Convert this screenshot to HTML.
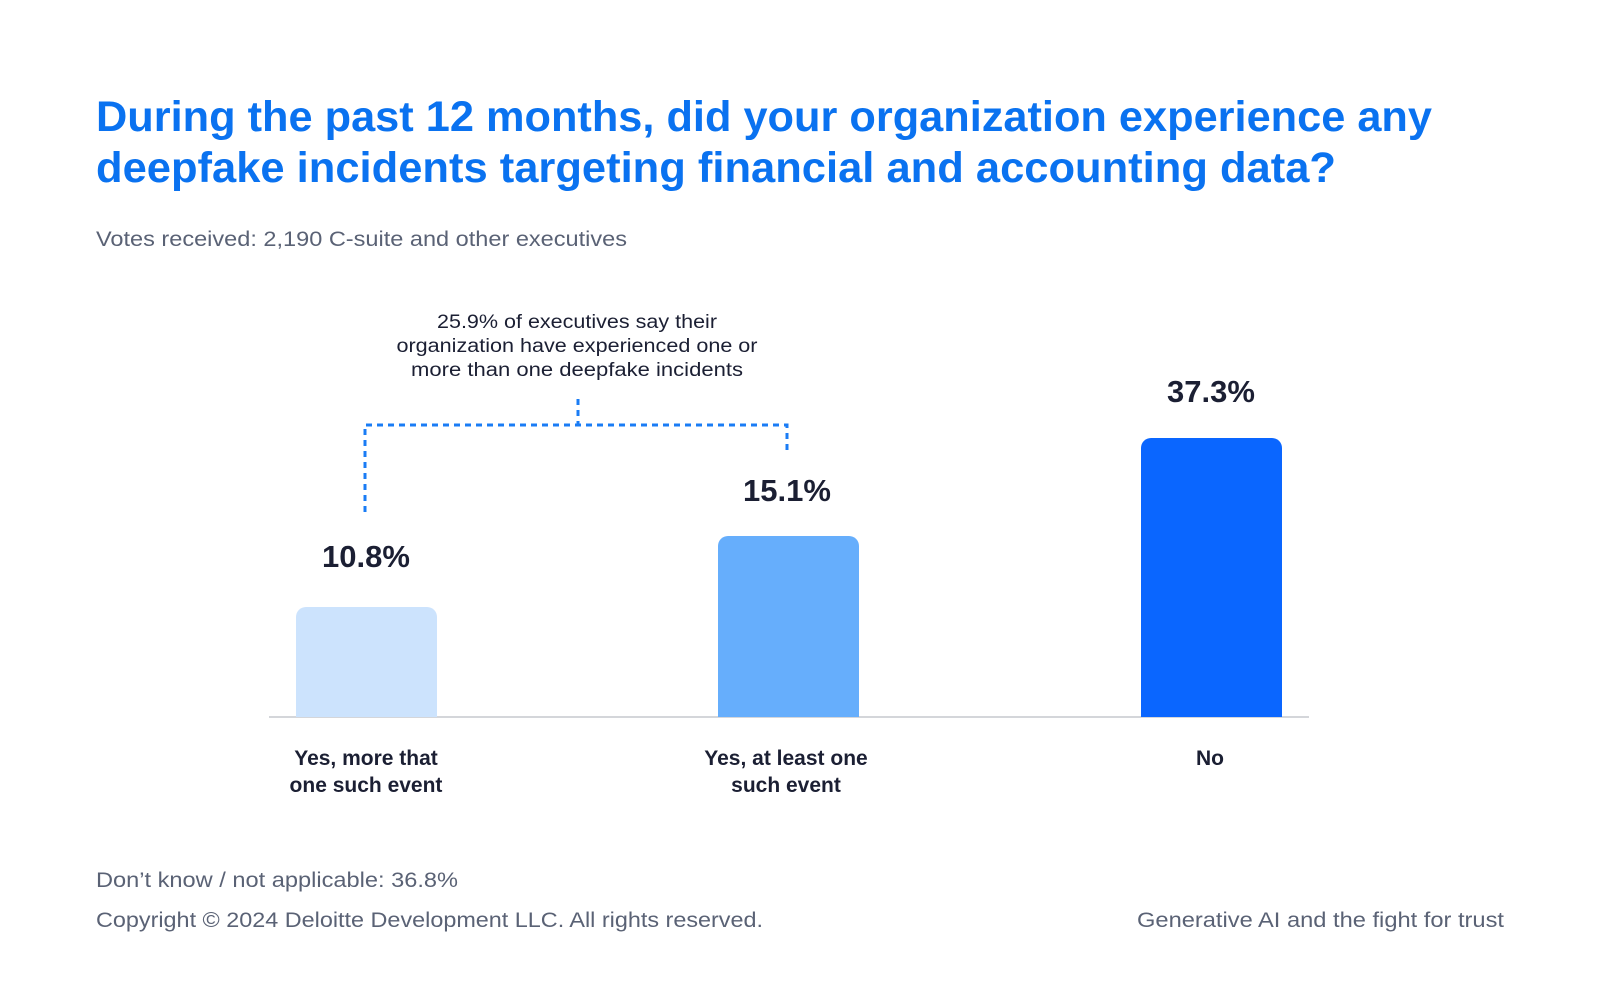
<!DOCTYPE html>
<html><head><meta charset="utf-8"><style>
html,body{margin:0;padding:0;background:#fff;}
svg{display:block;font-family:"Liberation Sans",sans-serif;}
</style></head><body>
<svg width="1600" height="1000" viewBox="0 0 1600 1000" xmlns="http://www.w3.org/2000/svg">
<rect width="1600" height="1000" fill="#fff"/>
<g transform="translate(0,-3)">
<g fill="#0a72f0" font-weight="bold" font-size="43">
<text x="96" y="134" textLength="1336" lengthAdjust="spacingAndGlyphs">During the past 12 months, did your organization experience any</text>
<text x="96" y="185" textLength="1240" lengthAdjust="spacingAndGlyphs">deepfake incidents targeting financial and accounting data?</text>
</g>
<text x="96" y="249" font-size="21" fill="#5a6275" textLength="531" lengthAdjust="spacingAndGlyphs">Votes received: 2,190 C-suite and other executives</text>
<g font-size="19" fill="#1b1f33" text-anchor="middle">
<text x="577" y="331" textLength="280" lengthAdjust="spacingAndGlyphs">25.9% of executives say their</text>
<text x="577" y="355" textLength="361" lengthAdjust="spacingAndGlyphs">organization have experienced one or</text>
<text x="577" y="379" textLength="332" lengthAdjust="spacingAndGlyphs">more than one deepfake incidents</text>
</g>
<g stroke="#1a7cf5" stroke-width="3" fill="none" stroke-dasharray="6 5">
<path d="M365 515 V428 H787 V457"/>
<path d="M578 402 V428"/>
</g>
<line x1="269" y1="720" x2="1309" y2="720" stroke="#d4d6da" stroke-width="2"/>
<path d="M296 720 V620 a10 10 0 0 1 10 -10 H427 a10 10 0 0 1 10 10 V720Z" fill="#cce3fd"/>
<path d="M718 720 V549 a10 10 0 0 1 10 -10 H849 a10 10 0 0 1 10 10 V720Z" fill="#66aefc"/>
<path d="M1141 720 V451 a10 10 0 0 1 10 -10 H1272 a10 10 0 0 1 10 10 V720Z" fill="#0a66ff"/>
<g font-size="31" font-weight="bold" fill="#1b1f33" text-anchor="middle">
<text x="366" y="570">10.8%</text>
<text x="787" y="504">15.1%</text>
<text x="1211" y="405">37.3%</text>
</g>
<g font-size="21" font-weight="bold" fill="#1b1f33" text-anchor="middle">
<text x="366" y="768">Yes, more that</text>
<text x="366" y="795">one such event</text>
<text x="786" y="768">Yes, at least one</text>
<text x="786" y="795">such event</text>
<text x="1210" y="768">No</text>
</g>
<g font-size="21" fill="#5a6275">
<text x="96" y="890" textLength="362" lengthAdjust="spacingAndGlyphs">Don’t know / not applicable: 36.8%</text>
<text x="96" y="930" textLength="667" lengthAdjust="spacingAndGlyphs">Copyright © 2024 Deloitte Development LLC. All rights reserved.</text>
<text x="1137" y="930" textLength="367" lengthAdjust="spacingAndGlyphs">Generative AI and the fight for trust</text>
</g>
</g>
</svg>
</body></html>
